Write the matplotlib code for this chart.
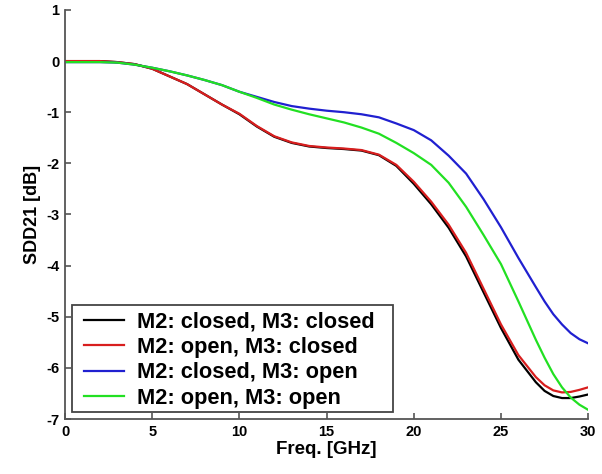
import numpy as np
import matplotlib
matplotlib.use("Agg")
import matplotlib.pyplot as plt
from matplotlib.patches import Rectangle

plt.rcParams['font.family'] = ['Liberation Sans', 'DejaVu Sans']
plt.rcParams['axes.unicode_minus'] = False

# Frequency points [GHz]
freq = [0, 1, 2, 3, 4, 5, 6, 7, 8, 9, 10, 11, 12, 13, 14, 15, 16, 17, 18, 19,
        20, 21, 22, 23, 24, 25, 26, 27, 27.5, 28, 28.5, 29, 29.5, 30]

# SDD21 [dB]
closed_closed = [0.0, 0.0, 0.0, -0.02, -0.06, -0.15, -0.3, -0.45, -0.65, -0.85,
                 -1.04, -1.28, -1.48, -1.6, -1.67, -1.7, -1.72, -1.75, -1.84, -2.05,
                 -2.4, -2.8, -3.26, -3.82, -4.52, -5.22, -5.84, -6.28, -6.45, -6.55,
                 -6.59, -6.59, -6.56, -6.52]
open_closed = [0.0, 0.0, 0.0, -0.02, -0.06, -0.15, -0.3, -0.45, -0.65, -0.85,
               -1.03, -1.27, -1.47, -1.59, -1.66, -1.69, -1.71, -1.74, -1.83, -2.03,
               -2.36, -2.75, -3.2, -3.75, -4.45, -5.15, -5.75, -6.18, -6.34, -6.44,
               -6.48, -6.47, -6.43, -6.38]
closed_open = [-0.02, -0.02, -0.02, -0.03, -0.07, -0.13, -0.2, -0.28, -0.37, -0.47,
               -0.6, -0.7, -0.8, -0.88, -0.93, -0.97, -1.0, -1.04, -1.1, -1.22,
               -1.35, -1.55, -1.85, -2.2, -2.7, -3.25, -3.85, -4.42, -4.7, -4.95,
               -5.15, -5.32, -5.44, -5.52]
open_open = [-0.02, -0.02, -0.02, -0.03, -0.07, -0.13, -0.2, -0.28, -0.37, -0.47,
             -0.6, -0.72, -0.85, -0.95, -1.04, -1.12, -1.2, -1.3, -1.42, -1.6,
             -1.8, -2.03, -2.38, -2.85, -3.4, -3.97, -4.7, -5.45, -5.8, -6.12,
             -6.38, -6.58, -6.72, -6.82]

labels = ['M2: closed, M3: closed', 'M2: open, M3: closed',
          'M2: closed, M3: open', 'M2: open, M3: open']
colors = ['black', '#d81e1e', '#2020d0', '#22e022']
series = [closed_closed, open_closed, closed_open, open_open]

fig = plt.figure(figsize=(6.02, 4.74), dpi=100)
ax = fig.add_axes([0.108, 0.116, 0.869, 0.863])

for y, c, lab in zip(series, colors, labels):
    ax.plot(freq, y, color=c, lw=1.6, label=lab)

ax.set_xlim(0, 30)
ax.set_ylim(-7, 1)
ax.set_xticks([0, 5, 10, 15, 20, 25, 30])
ax.set_yticks(np.arange(-7, 2, 1))

for side in ['top', 'right']:
    ax.spines[side].set_visible(False)
for side in ['left', 'bottom']:
    ax.spines[side].set_color('#555555')
    ax.spines[side].set_linewidth(1.3)

ax.tick_params(direction='in', length=4, width=1.2, color='#555555', pad=4,
               labelsize=10.5)
for t in ax.get_yticklabels() + ax.get_xticklabels():
    t.set_fontweight('bold')

ax.set_xlabel('Freq. [GHz]', fontsize=13.5, fontweight='bold', labelpad=2)
ax.set_ylabel('SDD21 [dB]', fontsize=13, fontweight='bold', labelpad=4)

# legend frame drawn separately (wider than the text, as in the original)
box = Rectangle((0.0134, 0.0171), 0.614, 0.262, transform=ax.transAxes,
                facecolor='white', edgecolor='#444444', lw=1.3, zorder=4)
ax.add_patch(box)
leg = ax.legend(loc='lower left', bbox_to_anchor=(0.036, 0.025), borderaxespad=0,
                frameon=False, prop={'size': 15.7, 'weight': 'bold'},
                labelspacing=0.2, handlelength=1.85, handletextpad=0.6,
                borderpad=0)
leg.set_zorder(5)

fig.savefig('out.png', dpi=100)
